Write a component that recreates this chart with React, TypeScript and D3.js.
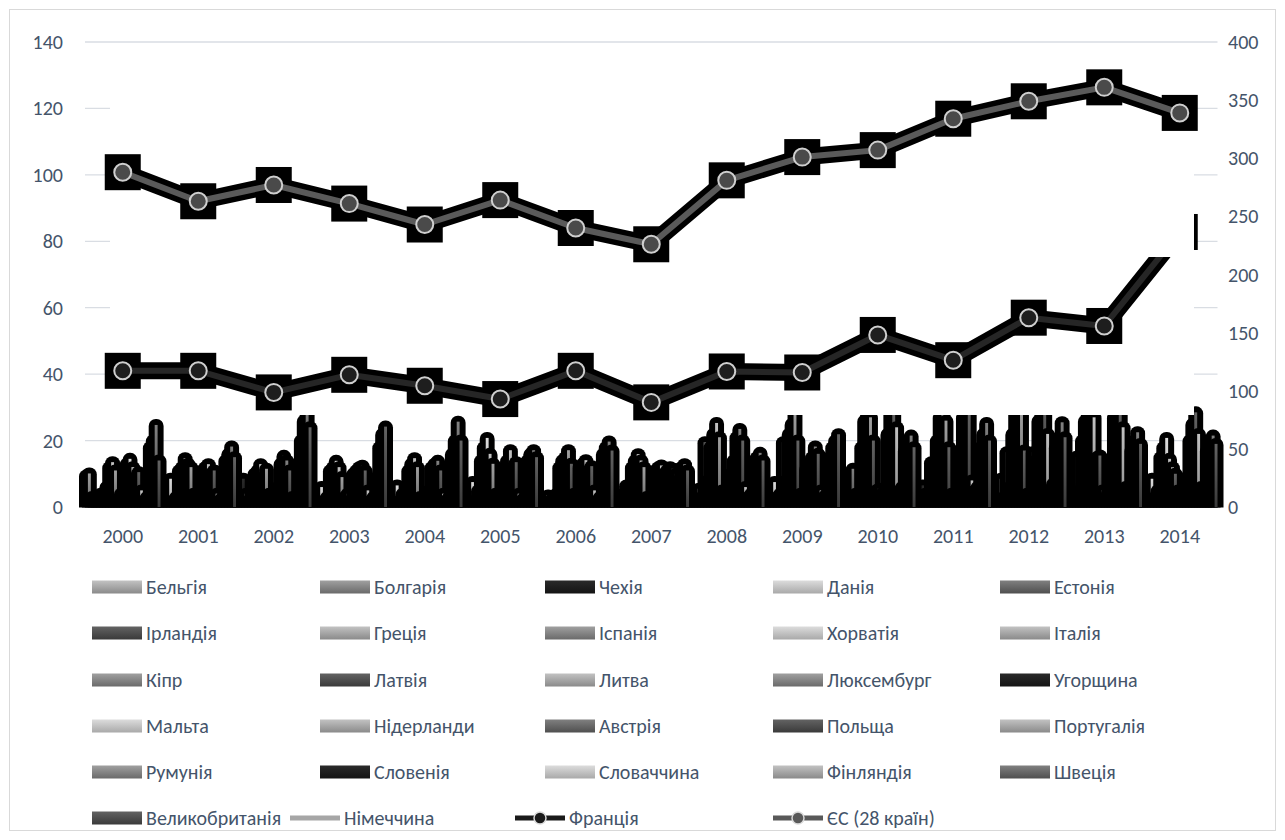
import React from 'react';
import * as d3 from 'd3';

const years = ['2000','2001','2002','2003','2004','2005','2006','2007','2008','2009','2010','2011','2012','2013','2014'];
const leftTicks = [0, 20, 40, 60, 80, 100, 120, 140];
const rightTicks = [0, 50, 100, 150, 200, 250, 300, 350, 400];

// bar series (left axis)
const belgium = [9.5,3,2,4,2,3,2,2,2,2,3,2,3,3,3];
const bulgaria = [10.1,2,3,2,3,2,2,3,3,3,4,3,4,4,4];
const czechia = [3,4,8.5,3,4,4,3,3,3,4,3,6.5,3,5,3];
const denmark = [2,8.5,4,6,6.5,7.5,3.5,4,5.5,7.5,10,4,8.5,15.1,8.5];
const estonia = [1.5,2,2,2,2,2,2,6.5,3,3,11.5,3,3,5,3];
const ireland = [4,3,5,3,4,5,3,4,19.5,4,4,13.5,16.5,20,5];
const greece = [3,11,10,11,3,14,4,12,8,19.5,3,5,6,26,15];
const spain = [6,12,11,12,11,18,12,14,18,8,18,20,22,29,18];
const croatia = [12,14.7,12.9,13.9,13,20.8,14,15.9,22,22,26,27,28,31,20.8];
const italy = [13.5,13,9,12,14.7,16,15,14,25.3,25,31,32,33,27,14.5];
const cyprus = [11,12,11.5,9,12,13,17.1,12,21,30,27,26,29,15,12];
const latvia = [2,4,4,3,3,4,13,3,5,20,20,18,17,15.5,10];
const lithuania = [4,3,3,4,2,3,4,2,4,4,5,4,4,5,5];
const luxembourg = [3,4,2,2,2,3,3,3,3,3,5.5,3,3,3,4];
const hungary = [13,11,6,10,5,12,12,11,10,11.5,4,5,16.5,5,6];
const malta = [14.5,12,13,11,12,14,13,12,14,9,5,15,14,14,9];
const netherlands = [12,12.9,15.4,12,13,17.1,14.1,12.5,21,15,22,27,26,27,20];
const austria = [9,10,14,12.4,13.9,12,11,10,23.5,18.2,30,34,32,30,25];
const poland = [10.5,11,11,11,11,13.5,12.3,11,20,16,33,29,36,33,28.5];
const portugal = [5,4,3,5,4,4,5,12,6,5,24,8,22,24,22];
const romania = [2,2,2,2,2,2,2,11.5,3,3,5,5,5,6,6];
const slovenia = [3,3,3,3,3,3,3,10,4,4,6,6,7,6,5];
const slovakia = [18,14,20,9,16,14,16,8,13,15,17,18,18,17,17];
const finland = [20,16,26,18,20,16,18,12,15,18,19,22,21,20,20];
const sweden = [24.7,18.2,32,22,25.7,17.1,19.7,12.9,16.3,20,21.5,25.3,25.5,22.5,21.5];
const uk = [14,15,24,24.2,20,15,17,11,14,21.9,18,20,21,19,19];

// line series
const germany: (number | null)[] = [null,null,null,null,null,null,null,null,null,null,null,null,null,null,null];
const france = [41,41,34.5,39.8,36.5,32.5,41,31.5,40.8,40.5,51.8,44.2,57,54.5,82.8]; // left axis
const eu28 = [288,263,277,261,243,264,240,226,281,301,307,334,349,361,339]; // right axis

const LIGHT = ['#dcdcdc', '#a9a9a9'];
const LMID = ['#c2c2c2', '#8a8a8a'];
const MID = ['#a0a0a0', '#6a6a6a'];
const DARK = ['#808080', '#4f4f4f'];
const DARKER = ['#636363', '#3a3a3a'];
const BLACK = ['#2a2a2a', '#141414'];

const barSeries = [
  { name: 'Бельгія', values: belgium, c: LMID },
  { name: 'Болгарія', values: bulgaria, c: MID },
  { name: 'Чехія', values: czechia, c: BLACK },
  { name: 'Данія', values: denmark, c: LIGHT },
  { name: 'Естонія', values: estonia, c: DARK },
  { name: 'Ірландія', values: ireland, c: DARKER },
  { name: 'Греція', values: greece, c: LMID },
  { name: 'Іспанія', values: spain, c: MID },
  { name: 'Хорватія', values: croatia, c: LIGHT },
  { name: 'Італія', values: italy, c: LMID },
  { name: 'Кіпр', values: cyprus, c: MID },
  { name: 'Латвія', values: latvia, c: DARKER },
  { name: 'Литва', values: lithuania, c: LMID },
  { name: 'Люксембург', values: luxembourg, c: MID },
  { name: 'Угорщина', values: hungary, c: BLACK },
  { name: 'Мальта', values: malta, c: LIGHT },
  { name: 'Нідерланди', values: netherlands, c: LMID },
  { name: 'Австрія', values: austria, c: DARK },
  { name: 'Польща', values: poland, c: DARKER },
  { name: 'Португалія', values: portugal, c: LMID },
  { name: 'Румунія', values: romania, c: MID },
  { name: 'Словенія', values: slovenia, c: BLACK },
  { name: 'Словаччина', values: slovakia, c: LIGHT },
  { name: 'Фінляндія', values: finland, c: LMID },
  { name: 'Швеція', values: sweden, c: DARK },
  { name: 'Великобританія', values: uk, c: DARKER },
];

const FONT = 'Carlito, Calibri, Lato, sans-serif';
const TXT = '#44546a';
const FS = 20;

export default function App() {
  const W = 1285, H = 840;
  const plotL = 85, plotR = 1217.5, plotT = 42, plotB = 507;
  const x = d3.scaleBand<string>().domain(years).range([plotL, plotR]).paddingInner(0).paddingOuter(0);
  const yL = d3.scaleLinear().domain([0, 140]).range([plotB, plotT]);
  const yR = d3.scaleLinear().domain([0, 400]).range([plotB, plotT]);
  const bw = x.bandwidth() / barSeries.length;
  const cx = (yr: string) => (x(yr) as number) + x.bandwidth() / 2;

  const franceLine = d3.line<number>().x((_, i) => cx(years[i])).y(v => yL(v));
  const euLine = d3.line<number>().x((_, i) => cx(years[i])).y(v => yR(v));

  const halo = 6;
  const sq = 18;

  const legendCols = [92, 320, 545, 773, 1000];
  const legendRows = [587, 633, 680, 726, 772, 818];

  const maskRight = 1194;

  return (
    <svg width={W} height={H} style={{ position: 'absolute', left: 0, top: 0, background: '#fff' }} fontFamily={FONT}>
      <defs>
        {barSeries.map((s, i) => (
          <linearGradient key={i} id={`bg${i}`} x1="0" y1="0" x2="0" y2="1">
            <stop offset="0" stopColor={s.c[0]} />
            <stop offset="1" stopColor={s.c[1]} />
          </linearGradient>
        ))}
        <clipPath id="plotClip">
          <rect x={0} y={0} width={W} height={plotB + 0.5} />
        </clipPath>
      </defs>
      <rect x={0} y={0} width={W} height={H} fill="#fff" />
      <rect x={9.5} y={9.5} width={1266} height={821} fill="#fff" stroke="#d9d9d9" strokeWidth={1} />

      {/* gridlines */}
      {leftTicks.map(t => (
        <line key={t} x1={plotL} x2={plotR} y1={yL(t)} y2={yL(t)} stroke="#d9dde3" strokeWidth={1.3} />
      ))}

      {/* bars with black glow, in series order */}
      <g clipPath="url(#plotClip)">
        {barSeries.map((s, si) => (
          <g key={si}>
            {s.values.map((v, yi) => {
              const x0 = (x(years[yi]) as number) + si * bw;
              const y0 = yL(v);
              return (
                <rect key={'h' + yi} x={x0 - halo} y={y0 - halo} width={bw + 2 * halo} height={plotB - y0 + halo + 8} rx={7} ry={7} fill="#000" />
              );
            })}
            {s.values.map((v, yi) => {
              const x0 = (x(years[yi]) as number) + si * bw;
              const y0 = yL(v);
              return <rect key={'b' + yi} x={x0} y={y0} width={bw} height={plotB - y0} fill={`url(#bg${si})`} />;
            })}
          </g>
        ))}
      </g>

      {/* white cover panel */}
      <rect x={110} y={52} width={maskRight - 110} height={415 - 52} fill="#fff" />

      {/* France */}
      <g>
        <path d={franceLine(france) as string} fill="none" stroke="#000" strokeWidth={17} strokeLinejoin="round" />
        {france.map((v, i) => (
          <rect key={i} x={cx(years[i]) - sq} y={yL(v) - sq} width={2 * sq} height={2 * sq} fill="#000" />
        ))}
        <path d={franceLine(france) as string} fill="none" stroke="#262626" strokeWidth={6} strokeLinejoin="round" />
        {france.map((v, i) => (
          <circle key={i} cx={cx(years[i])} cy={yL(v)} r={8.5} fill="#1e1e1e" stroke="#cfcfcf" strokeWidth={2} />
        ))}
      </g>

      <rect x={110} y={52} width={maskRight - 110} height={257 - 52} fill="#fff" />

      {/* EU */}
      <g>
        <path d={euLine(eu28) as string} fill="none" stroke="#000" strokeWidth={17} strokeLinejoin="round" />
        {eu28.map((v, i) => (
          <rect key={i} x={cx(years[i]) - sq} y={yR(v) - sq} width={2 * sq} height={2 * sq} fill="#000" />
        ))}
        <path d={euLine(eu28) as string} fill="none" stroke="#5a5a5a" strokeWidth={6} strokeLinejoin="round" />
        {eu28.map((v, i) => (
          <circle key={i} cx={cx(years[i])} cy={yR(v)} r={8.5} fill="#4a4a4a" stroke="#cfcfcf" strokeWidth={2} />
        ))}
      </g>

      {/* axis labels */}
      {leftTicks.map(t => (
        <text key={t} x={63} y={yL(t)} textAnchor="end" dominantBaseline="central" fontSize={FS} fill={TXT}>{t}</text>
      ))}
      {rightTicks.map(t => (
        <text key={t} x={1228} y={yR(t)} textAnchor="start" dominantBaseline="central" fontSize={FS} fill={TXT}>{t}</text>
      ))}
      {years.map(yr => (
        <text key={yr} x={cx(yr)} y={536} textAnchor="middle" dominantBaseline="central" fontSize={FS} fill={TXT}>{yr}</text>
      ))}

      {/* legend */}
      {barSeries.map((s, i) => {
        const col = i % 5;
        const row = Math.floor(i / 5);
        const lx = legendCols[col];
        const ly = legendRows[row];
        return (
          <g key={i}>
            <rect x={lx} y={ly - 6.5} width={50} height={13} fill={`url(#bg${i})`} />
            <text x={lx + 54} y={ly} dominantBaseline="central" fontSize={FS} fill={TXT}>{s.name}</text>
          </g>
        );
      })}
      {(() => {
        const ly = legendRows[5];
        return (
          <g>
            <line x1={290} x2={340} y1={ly} y2={ly} stroke="#a6a6a6" strokeWidth={5} />
            <text x={344} y={ly} dominantBaseline="central" fontSize={FS} fill={TXT}>Німеччина</text>
            <line x1={515} x2={565} y1={ly} y2={ly} stroke="#1a1a1a" strokeWidth={5} />
            <circle cx={540} cy={ly} r={6} fill="#1a1a1a" stroke="#d9d9d9" strokeWidth={1.5} />
            <text x={569} y={ly} dominantBaseline="central" fontSize={FS} fill={TXT}>Франція</text>
            <line x1={773} x2={823} y1={ly} y2={ly} stroke="#595959" strokeWidth={5} />
            <circle cx={798} cy={ly} r={6} fill="#595959" stroke="#d9d9d9" strokeWidth={1.5} />
            <text x={827} y={ly} dominantBaseline="central" fontSize={FS} fill={TXT}>ЄС (28 країн)</text>
          </g>
        );
      })()}
    </svg>
  );
}
